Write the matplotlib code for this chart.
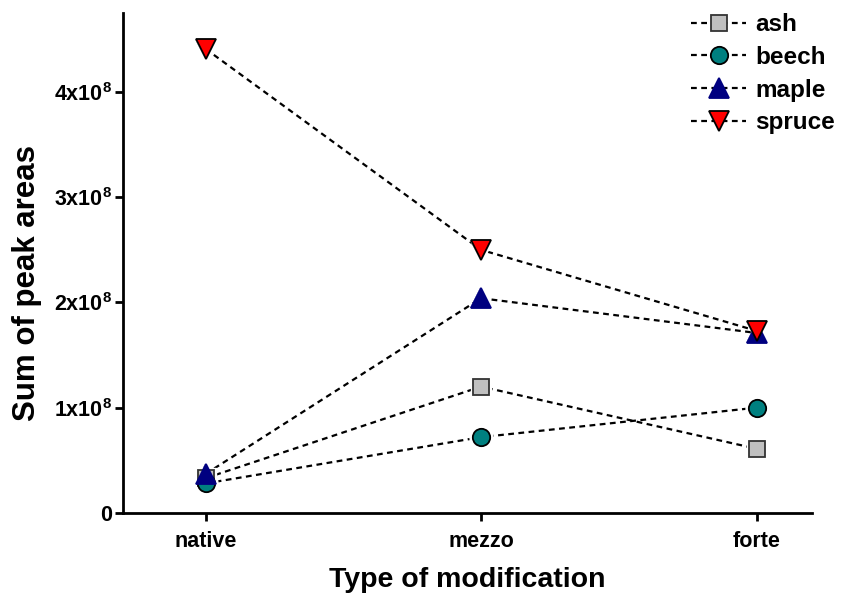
import matplotlib
matplotlib.use("Agg")
import matplotlib.pyplot as plt
from matplotlib.ticker import FuncFormatter

plt.rcParams['font.family'] = ['Liberation Sans', 'DejaVu Sans']
plt.rcParams['font.weight'] = 'bold'
plt.rcParams['mathtext.fontset'] = 'custom'
plt.rcParams['mathtext.rm'] = 'Liberation Sans:bold'
plt.rcParams['mathtext.it'] = 'Liberation Sans:bold'
plt.rcParams['mathtext.bf'] = 'Liberation Sans:bold'

categories = ['native', 'mezzo', 'forte']
ash = [0.33e8, 1.20e8, 0.61e8]
beech = [0.28e8, 0.72e8, 1.00e8]
maple = [0.37e8, 2.04e8, 1.71e8]
spruce = [4.41e8, 2.50e8, 1.73e8]
y_ticks = [0, 1e8, 2e8, 3e8, 4e8]

series = [
    ('ash', ash, dict(marker='s', ms=11, mfc='#c0c0c0', mec='#333333')),
    ('beech', beech, dict(marker='o', ms=12.5, mfc='#008080', mec='black')),
    ('maple', maple, dict(marker='^', ms=14, mfc='#000080', mec='#000080')),
    ('spruce', spruce, dict(marker='v', ms=14, mfc='#ff0000', mec='black')),
]

fig = plt.figure(figsize=(8.42, 5.95), dpi=100)
ax = fig.add_axes([0.146, 0.138, 0.818, 0.840])

x = list(range(len(categories)))
for name, vals, st in series:
    ax.plot(x, vals, color='black', lw=1.6, linestyle=(0, (2.6, 2.0)),
            mew=1.3, label=name, zorder=2, **st)
for name, vals, st in series:
    ax.plot(x, vals, linestyle='none', marker=st['marker'], ms=st['ms'] + 4,
            mfc='white', mec='white', zorder=2.5)
for name, vals, st in series:
    ax.plot(x, vals, linestyle='none', mew=1.3, zorder=3, **st)

ax.set_xlim(-0.30, 2.20)
ax.set_ylim(0, 4.75e8)
ax.set_xticks(x)
ax.set_xticklabels(categories)
ax.set_yticks(y_ticks)

def fmt(v, pos):
    if v == 0:
        return '0'
    return '%dx10$^{8}$' % round(v / 1e8)

ax.yaxis.set_major_formatter(FuncFormatter(fmt))

for s in ['top', 'right']:
    ax.spines[s].set_visible(False)
for s in ['left', 'bottom']:
    ax.spines[s].set_linewidth(2)
ax.tick_params(axis='both', width=2, length=6, labelsize=15.5, direction='out')
ax.tick_params(axis='x', pad=7)
ax.tick_params(axis='y', pad=2)
for lab in ax.get_xticklabels() + ax.get_yticklabels():
    lab.set_fontweight('bold')

ax.set_xlabel('Type of modification', fontsize=20.5, fontweight='bold')
ax.xaxis.set_label_coords(0.5, -0.108)
ax.set_ylabel('Sum of peak areas', fontsize=22.5, fontweight='bold')
ax.yaxis.set_label_coords(-0.118, 0.46)

leg = ax.legend(loc='upper right', bbox_to_anchor=(1.0, 0.99),
                bbox_transform=fig.transFigure, frameon=False,
                handlelength=2.3, handletextpad=0.35, labelspacing=0.4,
                borderaxespad=0.0, borderpad=0.3,
                prop={'weight': 'bold', 'size': 17.5})

fig.savefig('out.png', dpi=100)
